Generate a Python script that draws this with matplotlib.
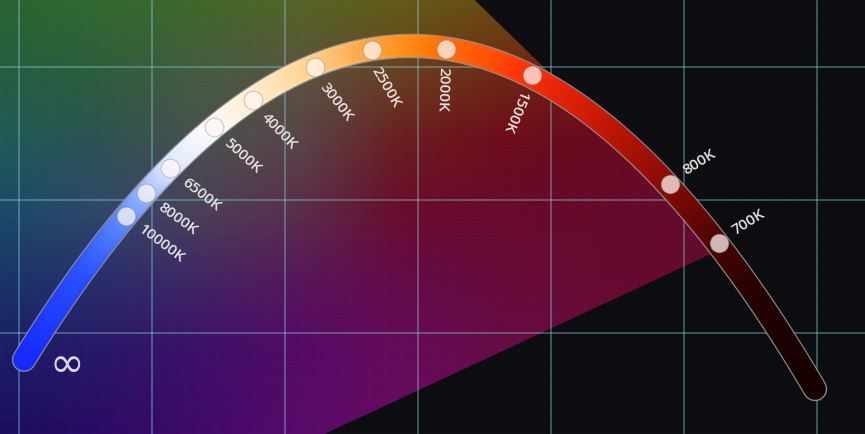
import numpy as np
import matplotlib.pyplot as plt
from matplotlib.collections import LineCollection
from matplotlib.colors import LinearSegmentedColormap, to_rgb
from matplotlib.patches import Polygon

# ---- data (1 unit = one major grid cell, origin at a grid crossing) ----
temps = ["10000K", "8000K", "6500K", "5000K", "4000K", "3000K",
         "2500K", "2000K", "1500K", "800K", "700K"]
marker_x = [0.805, 0.955, 1.135, 1.466, 1.759, 2.226, 2.654, 3.211, 3.857, 4.895, 5.263]
marker_y = [0.880, 1.053, 1.241, 1.549, 1.752, 2.000, 2.128, 2.135, 1.940, 1.120, 0.677]
label_angle = [-37, -36, -38, -42, -46, -52, -60, -92, -113, 32, 32]
label_side = ["in"] * 9 + ["out"] * 2

arc_start = (0.038, -0.188)   # the "infinity" end
arc_end = (5.985, -0.451)

# colour of the locus tube along x
tube_x = [0.038, 0.5, 0.805, 0.955, 1.135, 1.466, 1.759, 2.226, 2.654,
          3.015, 3.211, 3.617, 3.857, 4.368, 4.895, 5.263, 5.571, 5.985]
tube_col = ["#1428ff", "#2a50ff", "#5a88ff", "#90b0ff", "#d8e4ff", "#fbfbfb",
            "#fff0d4", "#ffd494", "#ffa848", "#ff8a14", "#ff7408", "#ff5008",
            "#ff300a", "#cc1a06", "#8e0c04", "#500402", "#260202", "#160000"]

# background colour samples (pixel rows / columns of the picture)
bg_x = [0, 100, 200, 300, 400, 500, 600, 700, 865]
bg_y = [0, 70, 140, 210, 280, 350, 434]
bg_rows = [
    ["#2a6430", "#326830", "#40682a", "#546424", "#625c18", "#6a4a12", "#6a3a0c", "#6a3a0c", "#6a3a0c"],
    ["#245e40", "#2e5e3c", "#445c40", "#5a5440", "#684020", "#6e2a14", "#701a10", "#701a10", "#701a10"],
    ["#1e5a58", "#2c5252", "#4a5050", "#584448", "#6a1e20", "#6e0c1a", "#6a0a1e", "#6a0a22", "#6a0a22"],
    ["#1a4a68", "#30486a", "#4a4058", "#5a2e4a", "#6a0c2c", "#680a2c", "#660a2c", "#640a2c", "#640a2c"],
    ["#1a3468", "#282e6a", "#402664", "#58165a", "#640a48", "#660a38", "#660a30", "#640a2c", "#640a2c"],
    ["#1a1e66", "#281868", "#3c1068", "#540a66", "#660a5a", "#680a48", "#680a40", "#680a40", "#680a40"],
    ["#1a0e60", "#2a0a66", "#400a6a", "#580a6a", "#680a60", "#680a50", "#680a50", "#680a50", "#680a50"],
]
# gamut triangle corners (pixels): red, green, blue
gamut_px = [(728, 246), (-100, -558), (-472, 805)]

W, H = 865, 434
CELL = 133.0
X0, Y0 = 19.0, 333.0


def to_units(px, py):
    return (np.asarray(px) - X0) / CELL, (Y0 - np.asarray(py)) / CELL


def lerp_image(xs, ys, rows, w, h):
    cols = np.array([[to_rgb(c) for c in r] for r in rows])
    xs = np.asarray(xs, float)
    ys = np.asarray(ys, float)
    px = np.arange(w) + 0.5
    py = np.arange(h) + 0.5
    ix = np.clip(np.searchsorted(xs, px) - 1, 0, len(xs) - 2)
    tx = np.clip((px - xs[ix]) / (xs[ix + 1] - xs[ix]), 0, 1)
    row = cols[:, ix] * (1 - tx)[None, :, None] + cols[:, ix + 1] * tx[None, :, None]
    iy = np.clip(np.searchsorted(ys, py) - 1, 0, len(ys) - 2)
    ty = np.clip((py - ys[iy]) / (ys[iy + 1] - ys[iy]), 0, 1)
    return row[iy] * (1 - ty)[:, None, None] + row[iy + 1] * ty[:, None, None]


fig = plt.figure(figsize=(8.65, 4.34), dpi=100, facecolor="#0c0d10")
ax = fig.add_axes([0, 0, 1, 1])
ax.set_facecolor("#0c0d10")
xmin, ymax = to_units(0, 0)
xmax, ymin = to_units(W, H)

# background gamut
img = lerp_image(bg_x, bg_y, bg_rows, W, H)
im = ax.imshow(img, extent=(xmin, xmax, ymin, ymax), origin="upper",
               interpolation="bilinear", zorder=0, aspect="auto")
gx, gy = to_units([p[0] for p in gamut_px], [p[1] for p in gamut_px])
tri = Polygon(np.column_stack([gx, gy]), closed=True, transform=ax.transData)
im.set_clip_path(tri)

# grid
ax.set_xticks(range(0, 7))
ax.set_yticks(range(-1, 3))
ax.set_xticks(np.arange(-1, 7, 0.125), minor=True)
ax.set_yticks(np.arange(-1, 3, 0.125), minor=True)
ax.set_axisbelow(True)
ax.grid(True, which="major", color=(0.55, 0.85, 0.9), alpha=0.45, lw=1.1)
ax.grid(True, which="minor", color="white", alpha=0.015, lw=0.8)
ax.tick_params(which="both", length=0, labelbottom=False, labelleft=False)
for s in ax.spines.values():
    s.set_visible(False)

# locus curve
fx = np.r_[arc_start[0], marker_x, arc_end[0]]
fy = np.r_[arc_start[1], marker_y, arc_end[1]]
coef = np.polyfit(fx, fy, 2)
cx = np.linspace(arc_start[0], arc_end[0], 500)
cy = np.polyval(coef, cx)

ax.plot(cx, cy, color="#9a9a9a", lw=17.6, solid_capstyle="round", zorder=3, alpha=0.85)
cmap = LinearSegmentedColormap.from_list(
    "locus", list(zip((np.array(tube_x) - tube_x[0]) / (tube_x[-1] - tube_x[0]), tube_col)))
pts = np.column_stack([cx, cy]).reshape(-1, 1, 2)
segs = np.concatenate([pts[:-1], pts[1:]], axis=1)
mid = (cx[:-1] + cx[1:]) / 2
lc = LineCollection(segs, colors=cmap((mid - tube_x[0]) / (tube_x[-1] - tube_x[0])),
                    linewidths=15.6, capstyle="round", zorder=4)
ax.add_collection(lc)

# markers
ax.scatter(marker_x, marker_y, s=180, color=(1, 0.97, 0.96, 0.74),
           edgecolors=(0.45, 0.45, 0.45, 0.35), linewidths=0.8, zorder=5)

# labels
off = 13.5
for t, x, y, ang, side in zip(temps, marker_x, marker_y, label_angle, label_side):
    d = 2 * coef[0] * x + coef[1]
    n = np.array([d, -1.0]) / np.hypot(d, 1.0)
    if side == "out":
        n = -n
    ax.annotate(t, xy=(x, y), xytext=(n[0] * off, n[1] * off),
                textcoords="offset points", rotation=ang, rotation_mode="anchor",
                ha="left", va="center", color="#e8e4e4", fontsize=11,
                family=["Open Sans", "DejaVu Sans"], fontweight="semibold", zorder=6)

ax.annotate("\u221e", xy=arc_start, xytext=(31, -5), textcoords="offset points",
            ha="center", va="center", color="#dcd4e4", fontsize=30,
            family=["DejaVu Sans"], zorder=6)

ax.set_xlim(xmin, xmax)
ax.set_ylim(ymin, ymax)

fig.savefig("out.png", dpi=100, facecolor=fig.get_facecolor())
